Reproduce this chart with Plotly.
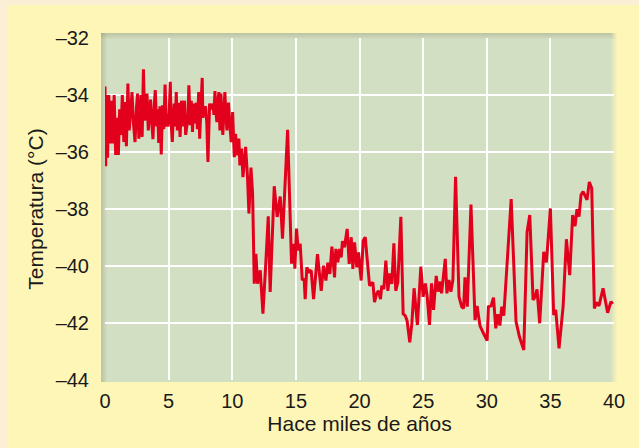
import plotly.graph_objects as go

# Age (thousands of years before present) and temperature (°C)
age_ka = [
    0.00, 0.05, 0.12, 0.20, 0.30, 0.40, 0.50, 0.60, 0.72, 0.84, 0.95, 1.05, 1.15, 1.25,
    1.36, 1.48, 1.58, 1.68, 1.80, 1.90, 2.02, 2.12, 2.24, 2.36, 2.48, 2.56, 2.66, 2.76,
    2.83, 2.92, 3.02, 3.12, 3.22, 3.30, 3.40, 3.50, 3.58, 3.68, 3.77, 3.88, 3.95, 4.06,
    4.14, 4.22, 4.32, 4.42, 4.52, 4.62, 4.72, 4.82, 4.95, 5.05, 5.13, 5.20, 5.29, 5.36,
    5.44, 5.52, 5.60, 5.68, 5.80, 5.90, 6.01, 6.12, 6.25, 6.34, 6.43, 6.52, 6.59, 6.70,
    6.78, 6.88, 6.96, 7.06, 7.17, 7.26, 7.36, 7.44, 7.54, 7.64, 7.69, 7.80, 7.90, 8.00,
    8.09, 8.16, 8.22, 8.35, 8.48, 8.56, 8.64, 8.72, 8.79, 8.88, 8.95, 9.03, 9.11, 9.18,
    9.26, 9.34, 9.42, 9.50, 9.58, 9.66, 9.71, 9.80, 9.86, 9.92, 10.03, 10.16, 10.26, 10.37,
    10.52, 10.60, 10.73, 10.84, 11.05, 11.20, 11.31, 11.47, 11.60, 11.73, 11.86, 11.99,
    12.20, 12.41, 12.62, 12.83, 12.98, 13.30, 13.53, 13.77, 13.95, 14.35, 14.66, 14.82,
    14.92, 15.05, 15.18, 15.34, 15.50, 15.65, 15.73, 15.86, 16.05, 16.20, 16.39, 16.70,
    16.99, 17.17, 17.36, 17.51, 17.67, 17.83, 18.04, 18.14, 18.30, 18.43, 18.56, 18.66,
    18.82, 19.03, 19.19, 19.35, 19.48, 19.61, 19.79, 19.92, 20.13, 20.29, 20.45, 20.60,
    20.79, 21.05, 21.18, 21.34, 21.49, 21.65, 21.75, 21.91, 22.07, 22.23, 22.38, 22.54,
    22.70, 22.85, 23.01, 23.25, 23.43, 23.59, 23.74, 23.95, 24.11, 24.29, 24.55, 24.82,
    25.00, 25.18, 25.32, 25.50, 25.66, 25.82, 26.03, 26.18, 26.34, 26.45, 26.55, 26.74,
    26.87, 27.03, 27.18, 27.34, 27.55, 27.82, 28.03, 28.18, 28.29, 28.47, 28.76, 29.08,
    29.24, 29.47, 29.74, 30.03, 30.13, 30.34, 30.53, 30.71, 30.87, 31.03, 31.18, 31.34,
    31.92, 32.30, 32.58, 32.91, 33.17, 33.38, 33.64, 33.80, 33.95, 34.16, 34.48, 34.69,
    35.00, 35.26, 35.42, 35.68, 36.00, 36.26, 36.52, 36.75, 36.94, 37.09, 37.25, 37.41,
    37.57, 37.72, 37.88, 38.06, 38.25, 38.46, 38.61, 38.82, 39.14, 39.50, 39.76, 39.90,
]

temp_c = [
    -33.70, -36.50, -34.00, -36.20, -34.00, -35.70, -34.20, -35.70, -34.00, -36.10, -34.80, -36.10, -34.50, -35.40,
    -34.00, -35.65, -34.25, -35.80, -33.60, -35.24, -34.60, -33.90, -35.00, -35.65, -34.40, -33.95, -35.53, -34.60,
    -34.00, -35.47, -33.10, -34.90, -34.30, -33.95, -35.24, -34.70, -34.16, -35.00, -35.55, -34.30, -33.83, -35.10,
    -34.50, -35.68, -34.40, -36.09, -34.36, -35.20, -33.63, -35.06, -35.06, -34.60, -33.54, -35.00, -35.65, -34.80,
    -34.30, -35.10, -33.90, -35.24, -34.27, -35.47, -34.20, -35.10, -34.20, -35.40, -35.00, -34.80, -33.66, -35.06,
    -34.20, -35.30, -34.30, -35.00, -34.27, -35.20, -33.90, -35.53, -34.40, -33.40, -34.80, -34.50, -34.40, -35.00,
    -36.35, -35.00, -34.30, -34.50, -34.30, -34.70, -33.86, -34.60, -34.95, -34.20, -33.90, -35.24, -33.95, -34.80,
    -35.40, -34.60, -33.90, -34.70, -35.24, -34.40, -34.27, -35.00, -35.60, -35.65, -34.60, -36.18, -35.36, -36.12,
    -35.53, -36.47, -35.88, -36.88, -35.82, -36.88, -38.16, -36.55, -37.46, -40.62, -39.57, -40.62,
    -40.15, -41.67, -40.03, -38.26, -40.91, -37.20, -38.28, -37.56, -39.04, -35.22, -39.92, -39.22,
    -40.09, -38.69, -39.45, -39.22, -40.50, -40.44, -41.16, -40.05, -40.20, -40.15, -41.16, -39.58,
    -40.87, -39.99, -40.51, -39.88, -40.28, -39.32, -40.40, -39.40, -39.87, -39.40, -39.70, -39.13,
    -39.34, -38.70, -39.93, -38.99, -40.10, -39.17, -40.05, -39.52, -40.51, -39.11, -38.99, -39.81,
    -40.69, -40.57, -41.27, -40.98, -40.87, -41.16, -40.69, -40.81, -39.81, -40.87, -40.26, -40.63,
    -39.20, -40.87, -40.57, -38.27, -41.68, -41.74, -41.92, -42.68, -42.04, -40.78, -42.07, -40.02,
    -41.08, -40.61, -41.08, -42.07, -40.61, -41.54, -40.35, -40.90, -40.55, -40.96, -40.55, -39.75,
    -40.96, -40.49, -40.90, -40.49, -36.87, -41.08, -41.43, -41.49, -40.40, -41.43, -37.84, -41.90,
    -41.40, -42.10, -42.36, -42.62, -41.43, -41.40, -41.11, -42.19, -41.69, -42.09, -41.43, -41.74,
    -37.65, -41.95, -42.50, -42.95, -38.80, -38.21, -41.19, -41.08, -40.82, -42.01, -39.50, -39.87,
    -37.98, -41.72, -41.54, -42.89, -41.43, -39.06, -40.32, -38.21, -38.60, -38.01, -38.27, -37.51,
    -37.39, -37.54, -37.68, -37.05, -37.27, -41.49, -41.28, -41.40, -40.78, -41.64, -41.25, -41.33,
]

x_ticks = [0, 5, 10, 15, 20, 25, 30, 35, 40]
y_ticks = [-44, -42, -40, -38, -36, -34, -32]

W, H = 639, 448
M_L, M_R, M_T, M_B = 105, 25, 38, 68
PW, PH = W - M_L - M_R, H - M_T - M_B


def px_x(px):
    return (px - M_L) / PW


def px_y(py):
    return (H - M_B - py) / PH


CREAM = "#FBF0D6"
YELLOW = "#FEF6B6"
PANEL = "#D3DFC3"
RED = "#E2001C"

shapes = [
    # yellow card behind everything
    dict(type="rect", xref="paper", yref="paper", layer="below",
         x0=px_x(7), x1=px_x(W + 2), y0=px_y(H + 2), y1=px_y(5),
         fillcolor=YELLOW, line=dict(width=0)),
    # green plotting panel
    dict(type="rect", xref="paper", yref="paper", layer="below",
         x0=px_x(101), x1=px_x(617), y0=px_y(382), y1=px_y(33),
         fillcolor=PANEL, line=dict(width=0)),
]

# soft inner shadow along the top and left of the panel, fade on the right
for i in range(6):
    alpha = 0.22 - i * 0.035
    shapes.append(dict(type="rect", xref="paper", yref="paper", layer="below",
                       x0=px_x(101), x1=px_x(617), y0=px_y(33 + i + 1), y1=px_y(33 + i),
                       fillcolor=f"rgba(110,110,60,{alpha:.3f})", line=dict(width=0)))
    shapes.append(dict(type="rect", xref="paper", yref="paper", layer="below",
                       x0=px_x(101 + i), x1=px_x(101 + i + 1), y0=px_y(382), y1=px_y(33),
                       fillcolor=f"rgba(110,110,60,{alpha:.3f})", line=dict(width=0)))
    shapes.append(dict(type="rect", xref="paper", yref="paper", layer="below",
                       x0=px_x(611 + i), x1=px_x(612 + i), y0=px_y(382), y1=px_y(33),
                       fillcolor=f"rgba(254,246,182,{0.15 + i * 0.14:.3f})", line=dict(width=0)))

fig = go.Figure()
fig.add_trace(go.Scatter(
    x=age_ka, y=temp_c, mode="lines",
    line=dict(color=RED, width=3),
    hoverinfo="skip", showlegend=False,
))

font_family = "Liberation Sans, Arial, sans-serif"

fig.update_layout(
    width=W, height=H,
    margin=dict(l=M_L, r=M_R, t=M_T, b=M_B, pad=0),
    paper_bgcolor=CREAM,
    plot_bgcolor="rgba(0,0,0,0)",
    shapes=shapes,
    font=dict(family=font_family, size=20, color="#1a1a1a"),
    xaxis=dict(
        range=[0, 40], tickvals=x_ticks, ticktext=[str(v) for v in x_ticks],
        showgrid=True, gridcolor="white", gridwidth=1.5,
        zeroline=False, showline=False,
        ticks="outside", ticklen=3, tickcolor="rgba(0,0,0,0)",
        tickfont=dict(size=20),
        title=dict(text="Hace miles de años", font=dict(size=21), standoff=2),
    ),
    yaxis=dict(
        range=[-44, -32], tickvals=y_ticks,
        ticktext=["\u2013" + str(abs(v)) for v in y_ticks],
        showgrid=True, gridcolor="white", gridwidth=1.5,
        zeroline=False, showline=False,
        ticks="outside", ticklen=11, tickcolor="rgba(0,0,0,0)",
        tickfont=dict(size=20),
        title=dict(text="Temperatura (°C)", font=dict(size=21), standoff=6),
    ),
)

fig.write_html("out.html")
